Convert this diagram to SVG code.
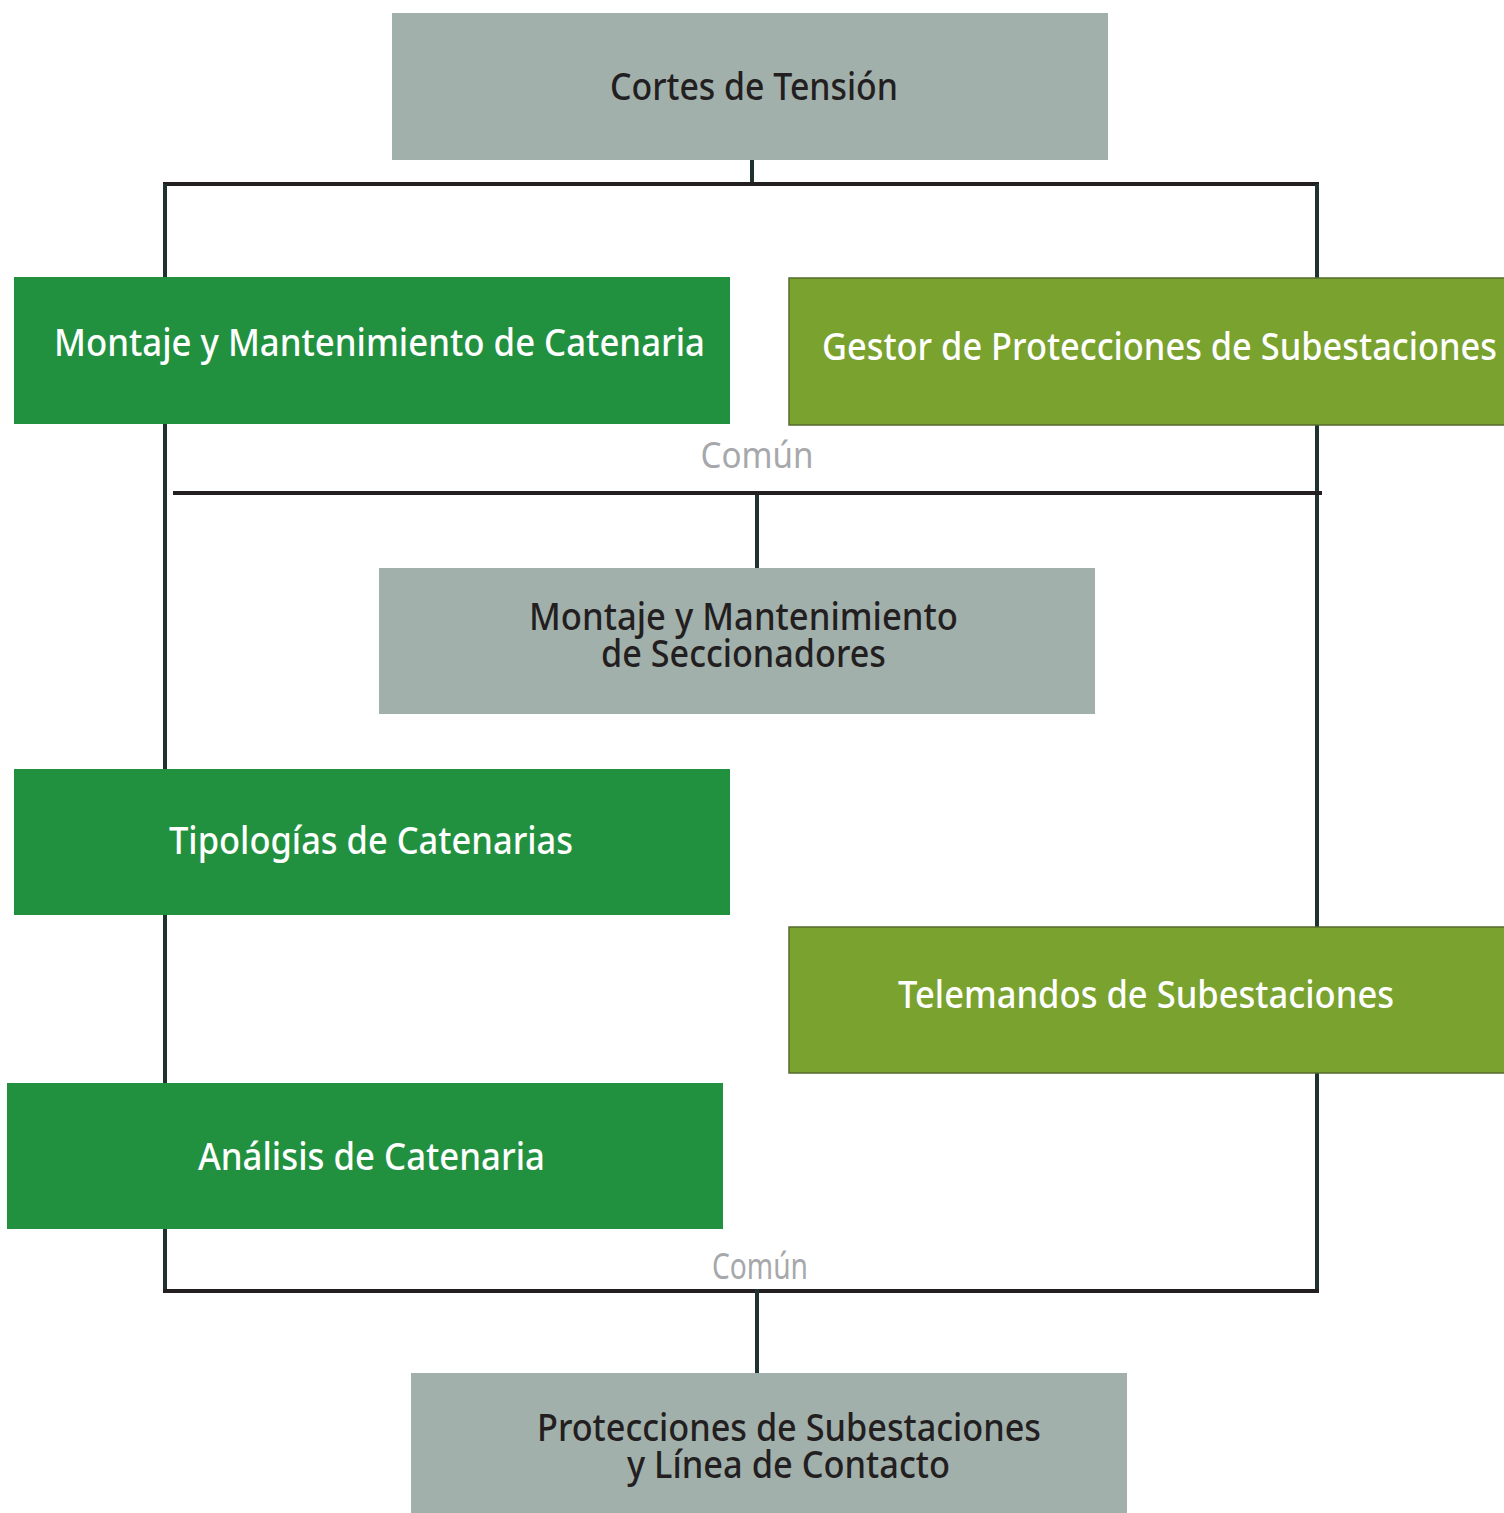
<svg xmlns="http://www.w3.org/2000/svg" width="1504" height="1513" viewBox="0 0 1504 1513">
<style>
.t{font-family:"Noto Sans","Liberation Sans",sans-serif;font-size:38px;font-weight:500}
.dk{fill:#231f20}
.wh{fill:#ffffff}
.cm{fill:#a6a8ab;font-size:36px;font-weight:400}
.h{stroke:#231f20;stroke-width:4;fill:none}
.v{stroke:#1e3232;stroke-width:4;fill:none}
.gray{fill:#a2b0ac}
.green{fill:#219140}
.olive{fill:#7aa22f;stroke:#556b2f;stroke-width:1.5}
</style>
<rect width="1504" height="1513" fill="#ffffff"/>
<g id="connectors">
<line class="v" x1="752" y1="160" x2="752" y2="182"/>
<line class="h" x1="163" y1="184" x2="1319" y2="184"/>
<line class="v" x1="165" y1="184" x2="165" y2="1293"/>
<line class="v" x1="1317" y1="184" x2="1317" y2="1291"/>
<line class="h" x1="173" y1="493" x2="1322" y2="493"/>
<line class="v" x1="757" y1="495" x2="757" y2="568"/>
<line class="h" x1="163" y1="1291" x2="1319" y2="1291"/>
<line class="v" x1="757" y1="1289" x2="757" y2="1373"/>
<text class="t cm" x="757" y="468" text-anchor="middle" textLength="113" lengthAdjust="spacingAndGlyphs">Común</text>
<text class="t cm" x="760" y="1279" text-anchor="middle" textLength="96" lengthAdjust="spacingAndGlyphs">Común</text>
</g>
<g id="n-cortes">
<rect class="gray" x="392" y="13" width="716" height="147"/>
<text class="t dk" x="754" y="100" text-anchor="middle" textLength="288" lengthAdjust="spacingAndGlyphs">Cortes de Tensión</text>
</g>
<g id="n-montaje-catenaria">
<rect class="green" x="14" y="277" width="716" height="147"/>
<text class="t wh" x="379.5" y="356" text-anchor="middle" textLength="651" lengthAdjust="spacingAndGlyphs">Montaje y Mantenimiento de Catenaria</text>
</g>
<g id="n-gestor">
<rect class="olive" x="789" y="278" width="720" height="147"/>
<text class="t wh" x="1159.5" y="360" text-anchor="middle" textLength="675" lengthAdjust="spacingAndGlyphs">Gestor de Protecciones de Subestaciones</text>
</g>
<g id="n-seccionadores">
<rect class="gray" x="379" y="568" width="716" height="146"/>
<text class="t dk" x="743.5" y="630" text-anchor="middle" textLength="429" lengthAdjust="spacingAndGlyphs">Montaje y Mantenimiento</text>
<text class="t dk" x="743.5" y="667" text-anchor="middle" textLength="285" lengthAdjust="spacingAndGlyphs">de Seccionadores</text>
</g>
<g id="n-tipologias">
<rect class="green" x="14" y="769" width="716" height="146"/>
<text class="t wh" x="371" y="854" text-anchor="middle" textLength="404" lengthAdjust="spacingAndGlyphs">Tipologías de Catenarias</text>
</g>
<g id="n-telemandos">
<rect class="olive" x="789" y="927" width="720" height="146"/>
<text class="t wh" x="1146" y="1008" text-anchor="middle" textLength="496" lengthAdjust="spacingAndGlyphs">Telemandos de Subestaciones</text>
</g>
<g id="n-analisis">
<rect class="green" x="7" y="1083" width="716" height="146"/>
<text class="t wh" x="371.5" y="1170" text-anchor="middle" textLength="347" lengthAdjust="spacingAndGlyphs">Análisis de Catenaria</text>
</g>
<g id="n-protecciones">
<rect class="gray" x="411" y="1373" width="716" height="140"/>
<text class="t dk" x="789" y="1441" text-anchor="middle" textLength="504" lengthAdjust="spacingAndGlyphs">Protecciones de Subestaciones</text>
<text class="t dk" x="788.5" y="1478" text-anchor="middle" textLength="323" lengthAdjust="spacingAndGlyphs">y Línea de Contacto</text>
</g>
</svg>
